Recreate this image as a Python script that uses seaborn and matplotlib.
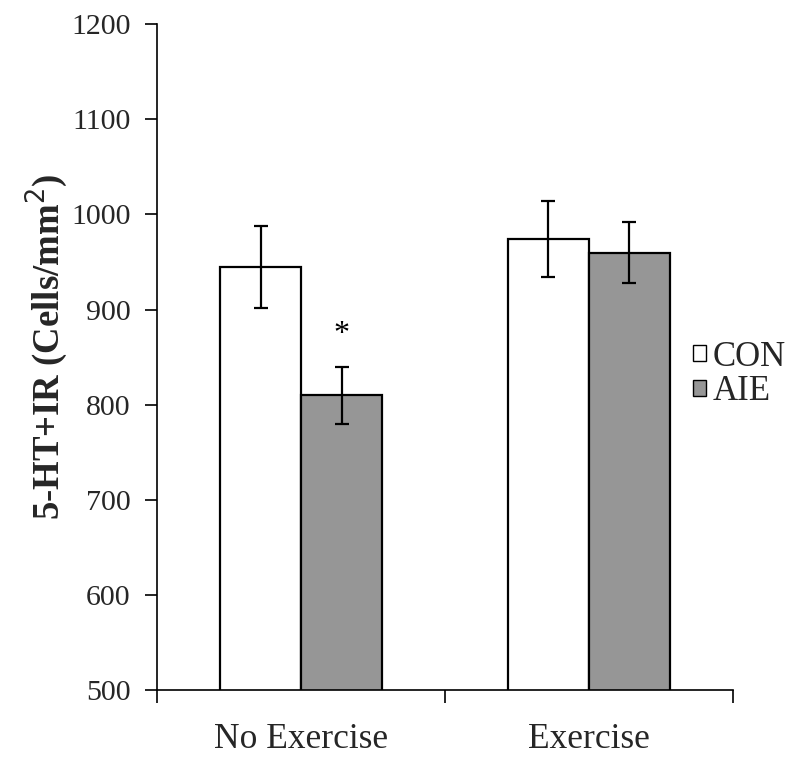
import matplotlib
matplotlib.use("Agg")
import matplotlib.pyplot as plt
import seaborn as sns
import pandas as pd
import numpy as np
from matplotlib.ticker import FixedLocator, NullFormatter

# Data
conditions = ["No Exercise", "Exercise"]
groups = ["CON", "AIE"]
con_means = [945, 974]
aie_means = [810, 960]
con_err = [43, 40]
aie_err = [30, 32]
y_ticks = [500, 600, 700, 800, 900, 1000, 1100, 1200]

df = pd.DataFrame({
    "condition": conditions * 2,
    "group": ["CON"] * 2 + ["AIE"] * 2,
    "value": con_means + aie_means,
    "err": con_err + aie_err,
})

sns.set_theme(style="white")
plt.rcParams["font.family"] = ["Liberation Serif", "DejaVu Serif"]

fig = plt.figure(figsize=(7.98, 7.59), dpi=100)
ax = fig.add_axes([0.197, 0.091, 0.721, 0.877])

palette = {"CON": "#ffffff", "AIE": "#969696"}
sns.barplot(data=df, x="condition", y="value", hue="group", order=conditions,
            hue_order=groups, palette=palette, width=0.5625, gap=0,
            errorbar=None, edgecolor="black", linewidth=1.6, ax=ax,
            saturation=1)

# error bars from bar patches
for cont, g in zip(ax.containers, groups):
    errs = con_err if g == "CON" else aie_err
    vals = con_means if g == "CON" else aie_means
    xs = [p.get_x() + p.get_width() / 2 for p in cont.patches]
    ax.errorbar(xs, vals, yerr=errs, fmt="none", ecolor="black",
                elinewidth=1.6, capsize=5, capthick=1.6, zorder=5)

# asterisk over AIE No Exercise
p = ax.containers[1].patches[0]
ax.text(p.get_x() + p.get_width() / 2, 874, "*", ha="center", va="center",
        fontsize=23, color="black")

ax.set_ylim(500, 1200)
ax.set_xlim(-0.5, 1.5)
ax.set_yticks(y_ticks)
ax.set_yticklabels([str(t) for t in y_ticks], fontsize=21.5)
ax.xaxis.set_major_locator(FixedLocator([-0.5, 0.5, 1.5]))
ax.xaxis.set_major_formatter(NullFormatter())
ax.xaxis.set_minor_locator(FixedLocator([0, 1]))
ax.set_xticks([0, 1], minor=True)
ax.set_xticklabels(conditions, minor=True, fontsize=25.5)
ax.tick_params(axis="x", which="major", direction="out", length=9, width=1.2,
               color="black", bottom=True)
ax.tick_params(axis="x", which="minor", length=0, pad=24)
ax.tick_params(axis="y", direction="out", length=9, width=1.2, color="black",
               left=True, pad=10)
ax.set_xlabel("")
ax.set_ylabel("5-HT+IR (Cells/mm$^2$)", fontsize=26.5, fontweight="bold")
ax.yaxis.set_label_coords(-0.152, 0.515)

for s in ["top", "right"]:
    ax.spines[s].set_visible(False)
for s in ["left", "bottom"]:
    ax.spines[s].set_color("black")
    ax.spines[s].set_linewidth(1.2)

leg = ax.legend(loc="center left", bbox_to_anchor=(0.932, 0.474),
                frameon=False, fontsize=25, handlelength=0.36,
                handleheight=0.36, handletextpad=0.18, labelspacing=0.05,
                borderaxespad=0, borderpad=0)
for h in leg.legend_handles:
    h.set_edgecolor("black")
    h.set_linewidth(1.0)

fig.savefig("out.png", dpi=100)
